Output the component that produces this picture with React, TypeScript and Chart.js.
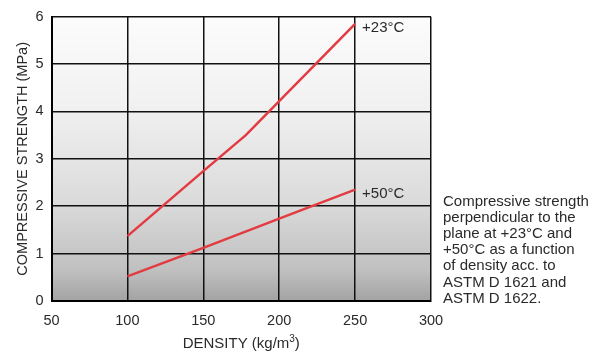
import React, { useEffect, useRef } from "react";
import { Chart, registerables } from "chart.js";

Chart.register(...registerables);

const densities23 = [100, 150, 178, 250];
const strength23 = [1.37, 2.74, 3.5, 5.85];
const densities50 = [100, 150, 200, 250];
const strength50 = [0.52, 1.12, 1.74, 2.35];
const seriesLabels = ["+23°C", "+50°C"];
const xTitle = "DENSITY (kg/m";
const xTitleSup = "3";
const xTitleEnd = ")";
const yTitle = "COMPRESSIVE STRENGTH (MPa)";
const noteLines = [
  "Compressive strength",
  "perpendicular to the",
  "plane at +23°C and",
  "+50°C as a function",
  "of density acc. to",
  "ASTM D 1621 and",
  "ASTM D 1622.",
];

const FONT = "'Liberation Sans', Arial, Helvetica, sans-serif";
const TEXT = "#2a2a2a";
const RED = "#e23c42";

const bgPlugin = {
  id: "bgGradient",
  beforeDraw(chart: any) {
    const { ctx, chartArea: a } = chart;
    const g = ctx.createLinearGradient(0, a.top, 0, a.bottom);
    g.addColorStop(0, "#fcfcfc");
    g.addColorStop(0.31, "#f1f1f1");
    g.addColorStop(0.65, "#dbdbdb");
    g.addColorStop(0.89, "#c0c0c0");
    g.addColorStop(1, "#a3a3a3");
    ctx.save();
    ctx.fillStyle = g;
    ctx.fillRect(a.left, a.top, a.right - a.left, a.bottom - a.top);
    ctx.restore();
  },
};

const textPlugin = {
  id: "texts",
  afterDraw(chart: any) {
    const { ctx, chartArea: a } = chart;
    const xs = chart.scales.x;
    const ys = chart.scales.y;
    ctx.save();
    ctx.fillStyle = TEXT;
    ctx.font = `15px ${FONT}`;
    const ends = [
      [densities23[densities23.length - 1], strength23[strength23.length - 1]],
      [densities50[densities50.length - 1], strength50[strength50.length - 1]],
    ];
    ctx.textAlign = "left";
    ctx.textBaseline = "alphabetic";
    ends.forEach((e, i) => {
      const px = xs.getPixelForValue(e[0]);
      const py = ys.getPixelForValue(e[1]);
      ctx.fillText(seriesLabels[i], px + 7, py + 8);
    });
    // y title
    ctx.save();
    ctx.font = `14.5px ${FONT}`;
    ctx.translate(27, (a.top + a.bottom) / 2);
    ctx.rotate(-Math.PI / 2);
    ctx.textAlign = "center";
    ctx.fillText(yTitle, 0, 0);
    ctx.restore();
    // x title with superscript
    ctx.font = `15px ${FONT}`;
    const w1 = ctx.measureText(xTitle).width;
    const w3 = ctx.measureText(xTitleEnd).width;
    ctx.font = `10px ${FONT}`;
    const w2 = ctx.measureText(xTitleSup).width;
    const total = w1 + w2 + w3;
    const x0 = (a.left + a.right) / 2 - total / 2;
    const base = 348;
    ctx.font = `15px ${FONT}`;
    ctx.textAlign = "left";
    ctx.fillText(xTitle, x0, base);
    ctx.font = `10px ${FONT}`;
    ctx.fillText(xTitleSup, x0 + w1, base - 6);
    ctx.font = `15px ${FONT}`;
    ctx.fillText(xTitleEnd, x0 + w1 + w2, base);
    // note
    noteLines.forEach((l, i) => {
      ctx.fillText(l, 443, 205.5 + i * 16.2);
    });
    ctx.restore();
  },
};

export default function App() {
  const ref = useRef<HTMLCanvasElement | null>(null);
  useEffect(() => {
    if (!ref.current) return;
    const chart = new Chart(ref.current, {
      type: "line",
      data: {
        datasets: [
          {
            label: seriesLabels[0],
            data: densities23.map((x, i) => ({ x, y: strength23[i] })),
            borderColor: RED,
            borderWidth: 2.5,
            pointRadius: 0,
            tension: 0,
          },
          {
            label: seriesLabels[1],
            data: densities50.map((x, i) => ({ x, y: strength50[i] })),
            borderColor: RED,
            borderWidth: 2.5,
            pointRadius: 0,
            tension: 0,
          },
        ],
      },
      options: {
        animation: false,
        responsive: false,
        devicePixelRatio: 1,
        layout: { padding: { top: 11, right: 172, left: 0, bottom: 0 } },
        plugins: {
          legend: { display: false },
          tooltip: { enabled: false },
        },
        scales: {
          x: {
            type: "linear",
            min: 50,
            max: 300,
            ticks: {
              stepSize: 50,
              padding: 11,
              color: TEXT,
              font: { family: FONT, size: 14.5 },
              maxRotation: 0,
            },
            grid: { color: "#111", lineWidth: 1.5, drawTicks: false },
            border: { display: true, color: "#000", width: 2 },
            afterFit: (s: any) => {
              s.height = 54;
            },
          },
          y: {
            min: 0,
            max: 6,
            ticks: {
              stepSize: 1,
              padding: 8,
              color: TEXT,
              font: { family: FONT, size: 14.5 },
            },
            grid: { color: "#111", lineWidth: 1.5, drawTicks: false },
            border: { display: true, color: "#000", width: 2 },
            afterFit: (s: any) => {
              s.width = 51.5;
            },
          },
        },
      },
      plugins: [bgPlugin, textPlugin],
    });
    return () => chart.destroy();
  }, []);
  return (
    <div style={{ position: "absolute", left: 0, top: 0, width: 603, height: 355, background: "#fff" }}>
      <canvas ref={ref} width={603} height={355} />
    </div>
  );
}
